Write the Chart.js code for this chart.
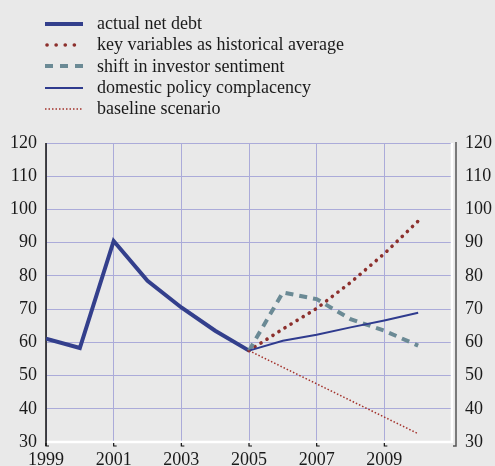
<!DOCTYPE html>
<html>
<head>
<meta charset="utf-8">
<script src="https://cdn.jsdelivr.net/npm/chart.js@4/dist/chart.umd.min.js"></script>
<style>
  html, body { margin: 0; padding: 0; background: #e9e9e9; }
  #wrap { position: relative; width: 495px; height: 466px; overflow: hidden; }
  #debtChart { position: absolute; left: 0; top: 0; }
  #legend { position: absolute; left: 45px; top: 13px; font-family: "Liberation Serif", "DejaVu Serif", serif; font-size: 18px; color: #1a1a1a; }
  .row { display: flex; align-items: center; height: 21.3px; }
  .row svg { width: 38px; height: 8px; margin-right: 14px; flex: none; }
</style>
</head>
<body>
<div id="wrap">
  <canvas id="debtChart" width="495" height="466"></canvas>
  <div id="legend"></div>
</div>
<script>
const actualYears = [1999, 2000, 2001, 2002, 2003, 2004, 2005];
const actualDebt = [61.1, 58.3, 90.5, 78.5, 70.5, 63.5, 57.5];

const scenarioYears = [2005, 2006, 2007, 2008, 2009, 2010];
const historicalAverage = [57.5, 64, 70.2, 78, 86.7, 96.5];
const investorSentiment = [57.5, 75, 73, 67, 63.5, 59];
const policyComplacency = [57.5, 60.5, 62.3, 64.5, 66.6, 68.9];
const baselineScenario = [57.5, 52.5, 47.5, 42.5, 37.5, 32.5];

const yearTicks = [1999, 2001, 2003, 2005, 2007, 2009];

const toPoints = (xs, ys) => xs.map((x, i) => ({ x: x, y: ys[i] }));

const series = [
  { label: 'actual net debt', data: toPoints(actualYears, actualDebt), color: '#333f8c', width: 4, dash: [], legendDash: '', cap: 'butt' },
  { label: 'key variables as historical average', data: toPoints(scenarioYears, historicalAverage), color: '#8c2f2c', width: 3.6, dash: [0.1, 7], legendDash: '0.1 9', cap: 'round' },
  { label: 'shift in investor sentiment', data: toPoints(scenarioYears, investorSentiment), color: '#6b8a95', width: 4, dash: [8, 6], legendDash: '8 7', cap: 'butt' },
  { label: 'domestic policy complacency', data: toPoints(scenarioYears, policyComplacency), color: '#2f3b8e', width: 2, dash: [], legendDash: '', cap: 'butt' },
  { label: 'baseline scenario', data: toPoints(scenarioYears, baselineScenario), color: '#a3302a', width: 1.5, dash: [1.5, 2], legendDash: '1.5 2', cap: 'butt' }
];

// html legend
const legendEl = document.getElementById('legend');
series.forEach(s => {
  const row = document.createElement('div');
  row.className = 'row';
  const dashAttr = s.legendDash ? `stroke-dasharray="${s.legendDash}"` : '';
  row.innerHTML = `<svg viewBox="0 0 38 8"><line x1="${s.cap === 'round' ? 2 : 0}" y1="4" x2="38" y2="4" stroke="${s.color}" stroke-width="${s.width}" stroke-linecap="${s.cap}" ${dashAttr}/></svg><span>${s.label}</span>`;
  legendEl.appendChild(row);
});

const frame = {
  id: 'frame',
  beforeDatasetsDraw(chart) {
    const { ctx, chartArea: a, scales: { x } } = chart;
    ctx.save();
    // white bottom and right edges
    ctx.strokeStyle = '#ffffff';
    ctx.lineWidth = 2.5;
    ctx.beginPath();
    ctx.moveTo(a.left, a.bottom);
    ctx.lineTo(a.right, a.bottom);
    ctx.lineTo(a.right, a.top);
    ctx.stroke();
    // left axis
    ctx.strokeStyle = '#111111';
    ctx.lineWidth = 1.5;
    ctx.beginPath();
    ctx.moveTo(a.left, a.top);
    ctx.lineTo(a.left, a.bottom + 4);
    ctx.stroke();
    // bottom tick marks
    ctx.lineWidth = 1.2;
    yearTicks.forEach(yr => {
      const px = x.getPixelForValue(yr);
      ctx.beginPath();
      ctx.moveTo(px, a.bottom + 1);
      ctx.lineTo(px, a.bottom + 4);
      ctx.lineTo(px + 3, a.bottom + 4);
      ctx.stroke();
    });
    // separate right axis
    ctx.strokeStyle = '#555555';
    ctx.lineWidth = 1.5;
    ctx.beginPath();
    ctx.moveTo(a.right + 4, a.top - 1);
    ctx.lineTo(a.right + 4, a.bottom + 4);
    ctx.lineTo(a.right + 1, a.bottom + 4);
    ctx.stroke();
    ctx.restore();
  }
};

const tickFont = { family: '"Liberation Serif", "DejaVu Serif", serif', size: 18 };

new Chart(document.getElementById('debtChart'), {
  type: 'line',
  data: {
    datasets: series.map(s => ({
      label: s.label,
      data: s.data,
      borderColor: s.color,
      borderWidth: s.width,
      borderDash: s.dash,
      borderCapStyle: s.cap,
      pointRadius: 0,
      tension: 0,
      fill: false
    })).reverse()
  },
  options: {
    responsive: false,
    animation: false,
    layout: { padding: { top: 143, left: 0, right: 0, bottom: 0 } },
    plugins: { legend: { display: false }, tooltip: { enabled: false } },
    scales: {
      x: {
        type: 'linear',
        min: 1999,
        max: 2011,
        afterBuildTicks: scale => { scale.ticks = [...yearTicks, 2011].map(v => ({ value: v })); },
        afterFit: scale => { scale.height = 24; },
        grid: { color: '#ababd9', lineWidth: 1, drawTicks: false },
        border: { display: false },
        ticks: {
          font: tickFont,
          color: '#1a1a1a',
          padding: 7,
          maxRotation: 0,
          callback: v => (v === 2011 ? '' : String(v))
        }
      },
      y: {
        position: 'left',
        min: 30,
        max: 120,
        afterFit: scale => { scale.width = 46; },
        grid: { color: '#ababd9', lineWidth: 1, drawTicks: false },
        border: { display: false },
        ticks: { stepSize: 10, font: tickFont, color: '#1a1a1a', padding: 9 }
      },
      yRight: {
        position: 'right',
        min: 30,
        max: 120,
        afterFit: scale => { scale.width = 43; },
        grid: { display: false, drawTicks: false },
        border: { display: false },
        ticks: { stepSize: 10, font: tickFont, color: '#1a1a1a', padding: 13 }
      }
    }
  },
  plugins: [frame]
});
</script>
</body>
</html>
